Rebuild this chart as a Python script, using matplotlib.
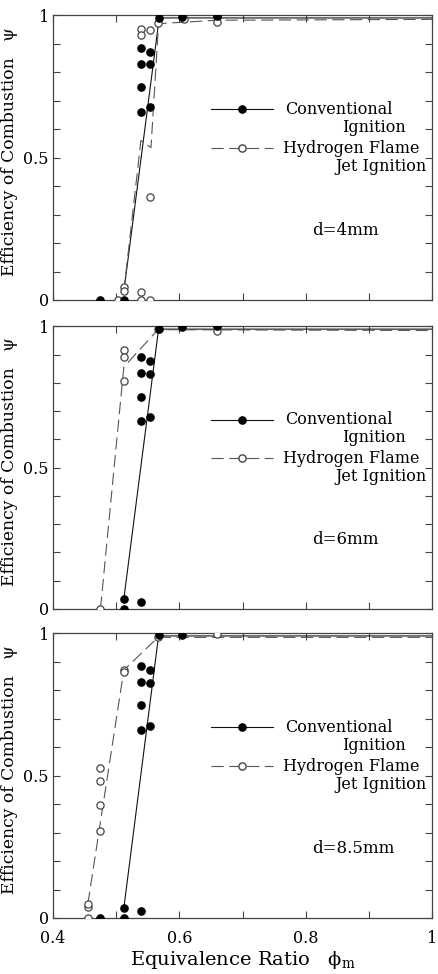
from matplotlib import pyplot as plt
from matplotlib.ticker import MultipleLocator
import numpy as np

plt.rcParams['font.family'] = ['DejaVu Serif']
plt.rcParams['mathtext.fontset'] = 'dejavuserif'

# x ticks / y ticks
x_ticks = [0.4, 0.6, 0.8, 1.0]
x_tick_labels = ['0.4', '0.6', '0.8', '1']
y_ticks = [0, 0.5, 1.0]
y_tick_labels = ['0', '0.5', '1']

# d = 4 mm
conv_x_4 = [0.474, 0.512, 0.539, 0.539, 0.539, 0.539, 0.554, 0.554, 0.554, 0.568, 0.604, 0.659]
conv_y_4 = [0.0, 0.0, 0.885, 0.830, 0.746, 0.661, 0.871, 0.827, 0.676, 0.990, 0.994, 0.996]
hyd_x_4 = [0.503, 0.512, 0.512, 0.539, 0.539, 0.554, 0.539, 0.539, 0.554, 0.554, 0.566, 0.608, 0.659, 0.659]
hyd_y_4 = [0.0, 0.044, 0.030, 0.950, 0.930, 0.947, 0.028, 0.0, 0.0, 0.363, 0.973, 0.985, 0.994, 0.977]
conv_fit_x_4 = [0.512, 0.568, 1.0]
conv_fit_y_4 = [0.03, 0.99, 0.99]
hyd_fit_x_4 = [0.512, 0.539, 0.555, 0.567, 0.66, 1.0]
hyd_fit_y_4 = [0.03, 0.56, 0.535, 0.97, 0.982, 0.985]

# d = 6 mm
conv_x_6 = [0.512, 0.512, 0.539, 0.539, 0.539, 0.539, 0.539, 0.554, 0.554, 0.554, 0.567, 0.604, 0.659]
conv_y_6 = [0.035, 0.0, 0.024, 0.892, 0.835, 0.751, 0.665, 0.876, 0.831, 0.680, 0.992, 0.998, 1.0]
hyd_x_6 = [0.475, 0.512, 0.512, 0.512, 0.566, 0.659, 0.659]
hyd_y_6 = [0.0, 0.915, 0.892, 0.806, 0.992, 1.0, 0.984]
conv_fit_x_6 = [0.512, 0.567, 1.0]
conv_fit_y_6 = [0.035, 0.99, 0.99]
hyd_fit_x_6 = [0.475, 0.512, 0.566, 1.0]
hyd_fit_y_6 = [0.0, 0.856, 0.988, 0.985]

# d = 8.5 mm
conv_x_85 = [0.474, 0.512, 0.512, 0.539, 0.539, 0.539, 0.539, 0.539, 0.554, 0.554, 0.554, 0.567, 0.604]
conv_y_85 = [0.0, 0.0, 0.035, 0.025, 0.884, 0.830, 0.746, 0.659, 0.870, 0.826, 0.674, 0.993, 0.993]
hyd_x_85 = [0.455, 0.455, 0.455, 0.475, 0.475, 0.475, 0.475, 0.512, 0.512, 0.566, 0.659]
hyd_y_85 = [0.0, 0.039, 0.050, 0.528, 0.480, 0.397, 0.306, 0.872, 0.864, 0.985, 0.997]
conv_fit_x_85 = [0.512, 0.567, 1.0]
conv_fit_y_85 = [0.035, 0.99, 0.99]
hyd_fit_x_85 = [0.455, 0.512, 0.566, 1.0]
hyd_fit_y_85 = [0.05, 0.87, 0.985, 0.985]

panels = [
    ('d=4mm', conv_x_4, conv_y_4, hyd_x_4, hyd_y_4, conv_fit_x_4, conv_fit_y_4, hyd_fit_x_4, hyd_fit_y_4),
    ('d=6mm', conv_x_6, conv_y_6, hyd_x_6, hyd_y_6, conv_fit_x_6, conv_fit_y_6, hyd_fit_x_6, hyd_fit_y_6),
    ('d=8.5mm', conv_x_85, conv_y_85, hyd_x_85, hyd_y_85, conv_fit_x_85, conv_fit_y_85, hyd_fit_x_85, hyd_fit_y_85),
]

CONV_COLOR = '#111111'
HYD_COLOR = '#555555'
DASHES = (11, 5)
TEXT_SIZE = 11.5


def draw_panel(ax, label, cx, cy, hx, hy, cfx, cfy, hfx, hfy, bottom):
    ax.plot(cfx, cfy, '-', color=CONV_COLOR, lw=0.8)
    ax.plot(hfx, hfy, '--', color=HYD_COLOR, lw=0.8, dashes=DASHES)
    ax.plot(hx, hy, 'o', ms=5.2, mfc='white', mec='#444444', mew=0.9, ls='none', zorder=3)
    ax.plot(cx, cy, 'o', ms=5.2, color='black', ls='none', zorder=4)

    ax.set_xlim(0.4, 1.0)
    ax.set_ylim(0, 1.0)
    ax.set_xticks(x_ticks)
    ax.xaxis.set_minor_locator(MultipleLocator(0.1))
    ax.set_yticks(y_ticks)
    ax.set_yticklabels(y_tick_labels)
    ax.yaxis.set_minor_locator(MultipleLocator(0.1))
    ax.tick_params(which='both', direction='in', top=True, right=True,
                   length=5, width=0.8, color='#444444', labelsize=11.5)
    ax.tick_params(axis='y', pad=3)
    ax.tick_params(axis='x', pad=9)
    if bottom:
        ax.set_xticklabels(x_tick_labels)
        ax.set_xlabel('Equivalence Ratio   ϕ$_{\\rm m}$', fontsize=14, labelpad=1)
    else:
        ax.set_xticklabels([])
    ax.set_ylabel('Efficiency of Combustion   ψ', fontsize=12.3)
    ax.yaxis.set_label_coords(-0.092, 0.52)
    for s in ax.spines.values():
        s.set_color('#444444')
        s.set_linewidth(0.9)

    # hand-made legend
    t = ax.transAxes
    ax.plot([0.417, 0.499, 0.58], [0.67, 0.67, 0.67], '-', color=CONV_COLOR, lw=0.8,
            marker='o', markevery=[1], ms=5.2, mfc='black', mec='black', transform=t)
    ax.plot([0.417, 0.499, 0.58], [0.533, 0.533, 0.533], '--', color=HYD_COLOR, lw=0.8,
            dashes=DASHES, marker='o', markevery=[1], ms=5.2, mfc='white', mec='#444444',
            transform=t)
    ax.text(0.612, 0.67, 'Conventional', transform=t, fontsize=TEXT_SIZE, va='center', ha='left')
    ax.text(0.93, 0.605, 'Ignition', transform=t, fontsize=TEXT_SIZE, va='center', ha='right')
    ax.text(0.607, 0.533, 'Hydrogen Flame', transform=t, fontsize=TEXT_SIZE, va='center', ha='left')
    ax.text(0.985, 0.468, 'Jet Ignition', transform=t, fontsize=TEXT_SIZE, va='center', ha='right')
    ax.text(0.683, 0.245, label, transform=t, fontsize=12, va='center', ha='left')


def main():
    fig = plt.figure(figsize=(4.39, 9.74), dpi=100)
    boxes = [(0.692, 0.2925), (0.375, 0.29), (0.0575, 0.2925)]
    for i, (bottom_y, h) in enumerate(boxes):
        ax = fig.add_axes([0.121, bottom_y, 0.863, h])
        draw_panel(ax, *panels[i], bottom=(i == 2))
    fig.savefig('out.png', dpi=100)


if __name__ == '__main__':
    main()
